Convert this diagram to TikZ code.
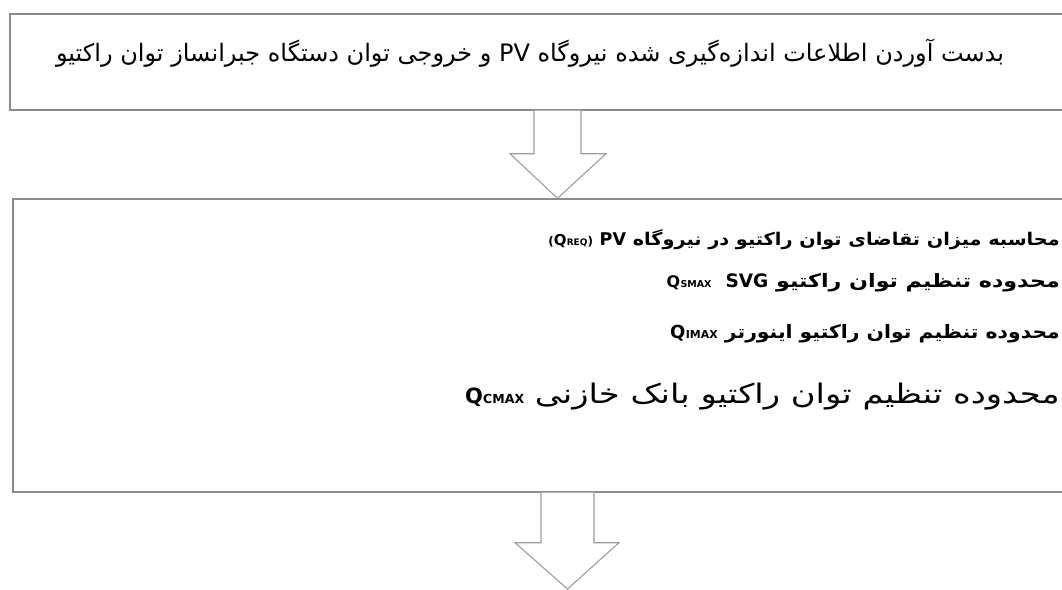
\documentclass[tikz,border=0pt]{standalone}
\usepackage{fontspec}
\TeXXeTstate=1
\newfontfamily\arabicfont[Script=Arabic]{DejaVu Sans}
\newfontfamily\arabicwide[Script=Arabic,FakeStretch=1.1]{DejaVu Sans}
\newfontfamily\arabicwider[Script=Arabic,FakeStretch=1.2]{DejaVu Sans}
\newfontfamily\arabicwidest[Script=Arabic,FakeStretch=1.25]{DejaVu Sans}
\newfontfamily\latinfont{DejaVu Sans}
\usetikzlibrary{calc}
\newcommand\qsub[3]{{\latinfont\bfseries\fontsize{#3}{#3}\selectfont Q\kern0.3pt{\fontsize{#2}{#2}\selectfont #1}}}
\tikzset{
  boxframe/.style={draw=black!45, line width=1.4pt, rectangle, inner sep=0pt},
  blockarrow/.style={draw=black!38, line width=1.1pt, fill=white, line join=miter},
  linetext/.style={anchor=east, inner sep=0pt, text=black},
}
\begin{document}
\begin{tikzpicture}[x=1pt,y=-1pt]
\useasboundingbox (0,0) rectangle (1062,589);
\clip (0,0) rectangle (1062,589);
\fill[white] (0,0) rectangle (1062,589);
% boxes
\node[boxframe, minimum width=1070pt, minimum height=96pt] (b1) at (545,62) {};
\node[boxframe, minimum width=1064pt, minimum height=293pt] (b2) at (545,345.5) {};
% top text
\node[inner sep=0pt] (t1) at (530,53) {\arabicfont\fontsize{24}{28}\selectfont\beginR بدست آوردن اطلاعات اندازه‌گیری شده نیروگاه \beginL{\latinfont PV}\endL{} و خروجی توان دستگاه جبرانساز توان راکتیو\endR};
% second box lines
\node[linetext] (l1) at (1060,240) {\arabicwide\bfseries\fontsize{17.5}{20}\selectfont\beginR محاسبه میزان تقاضای توان راکتیو در نیروگاه \beginL{\latinfont\bfseries PV}\endL{} \beginL{\latinfont\fontsize{12}{14}\selectfont(}\qsub{REQ}{9}{15}{\latinfont\fontsize{12}{14}\selectfont)}\endL\endR};
\node[linetext] (l2) at (1060,283) {\arabicwider\bfseries\fontsize{18.5}{21}\selectfont\beginR محدوده تنظیم توان راکتیو \beginL{\latinfont\bfseries SVG}\endL{}\hspace{14pt}\beginL\qsub{SMAX}{9.5}{16}\endL\endR};
\node[linetext] (l3) at (1060,334) {\arabicwide\bfseries\fontsize{18.5}{22}\selectfont\beginR محدوده تنظیم توان راکتیو اینورتر \beginL\qsub{IMAX}{11}{18}\endL\endR};
\node[linetext] (l4) at (1060,397) {\arabicwidest\fontsize{27}{31}\selectfont\beginR محدوده تنظیم توان راکتیو بانک خازنی \beginL\qsub{CMAX}{12.5}{21}\endL\endR};
% arrow 1
\coordinate (a1s) at (b1.south -| 557.5,0);
\coordinate (a1t) at (b2.north -| 557.5,0);
\draw[blockarrow] ($(a1s)+(-23.5,0)$) -- ($(a1s)+(-23.5,43)$) -- ($(a1s)+(-47.5,43)$) -- (a1t) -- ($(a1s)+(48.5,43)$) -- ($(a1s)+(23.5,43)$) -- ($(a1s)+(23.5,0)$);
% arrow 2
\coordinate (a2s) at (b2.south -| 567.5,0);
\coordinate (a2t) at (567.5,589);
\draw[blockarrow] ($(a2s)+(-26.5,0)$) -- ($(a2s)+(-26.5,50)$) -- ($(a2s)+(-52.5,50)$) -- (a2t) -- ($(a2s)+(51.5,50)$) -- ($(a2s)+(26.5,50)$) -- ($(a2s)+(26.5,0)$);
\end{tikzpicture}
\end{document}
